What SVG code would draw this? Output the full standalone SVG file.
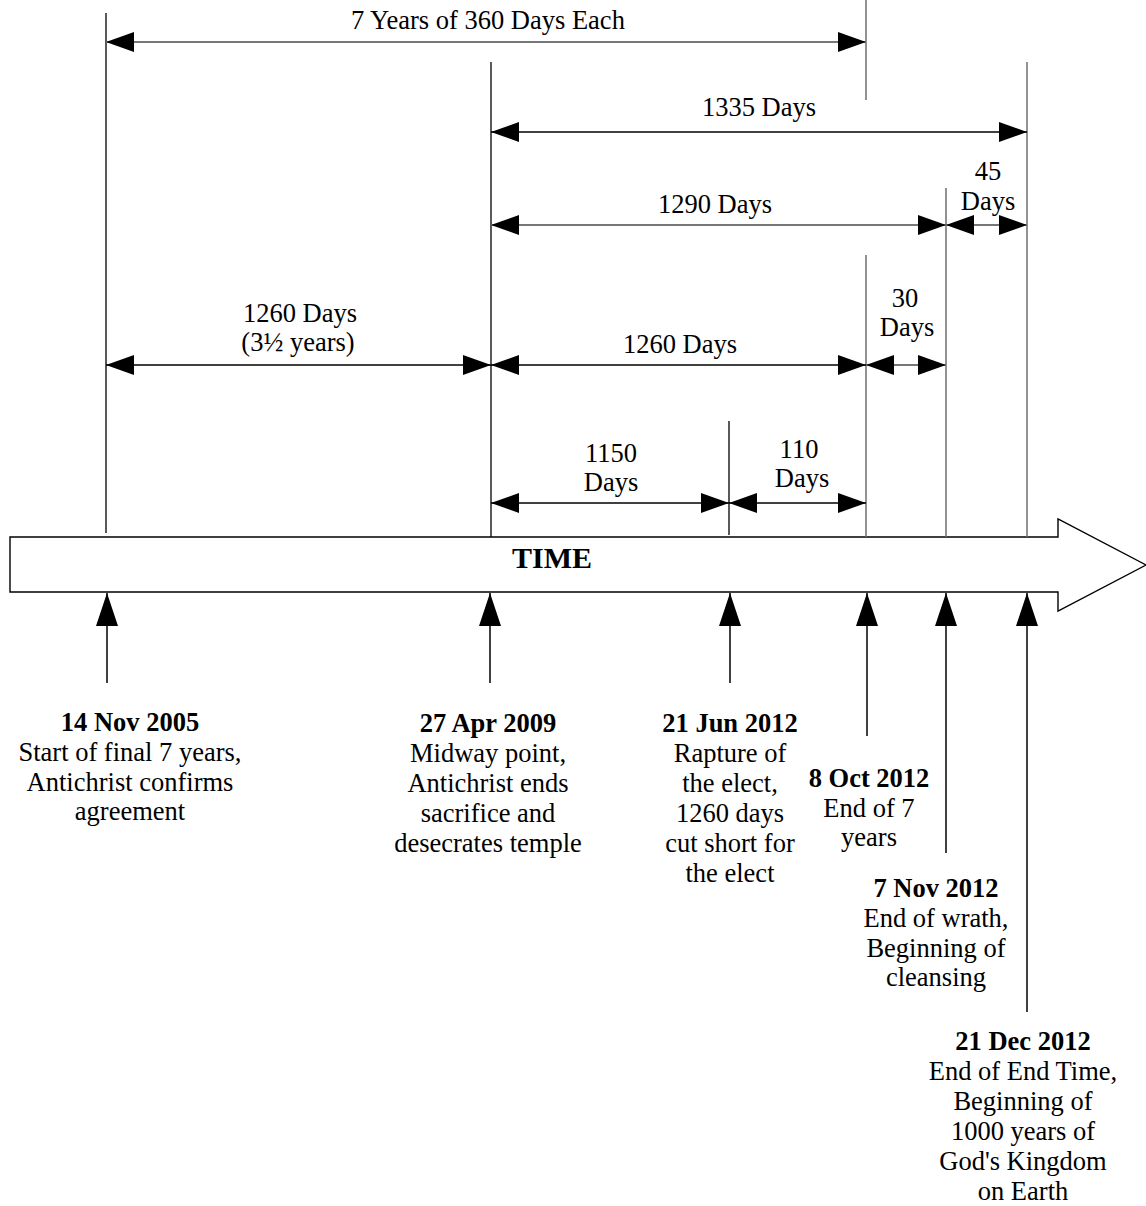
<svg xmlns="http://www.w3.org/2000/svg" width="1146" height="1206" viewBox="0 0 1146 1206">
<style>
text{font-family:"Liberation Serif","Times New Roman",serif;font-size:26.5px;fill:#000;text-anchor:middle}
.b{font-weight:bold}
.t{font-weight:bold;font-size:30px}
.v{stroke:#000;stroke-width:1.3;fill:none}
.g{stroke:#6e6e6e;stroke-width:1.5;fill:none}
.d{stroke:#000;stroke-width:1.5;fill:none;marker-start:url(#ah);marker-end:url(#ah)}
.dg{stroke:#777;stroke-width:1.8;fill:none;marker-start:url(#ah);marker-end:url(#ah)}
.u{stroke:#000;stroke-width:1.5;fill:none;marker-end:url(#up)}
</style>
<defs>
<marker id="ah" viewBox="0 0 28 20" refX="28" refY="10" markerWidth="28" markerHeight="20" markerUnits="userSpaceOnUse" orient="auto-start-reverse">
<path d="M0,0 L28,10 L0,20 Z" fill="#000"/>
</marker>
<marker id="up" viewBox="0 0 33 22" refX="33" refY="11" markerWidth="33" markerHeight="22" markerUnits="userSpaceOnUse" orient="auto">
<path d="M0,0 L33,11 L0,22 Z" fill="#000"/>
</marker>
</defs>
<g id="time-arrow">
<polygon points="10,537 1058,537 1058,519 1146,565 1058,611 1058,592 10,592" fill="#fff" stroke="#000" stroke-width="1.4"/>
<text class="t" x="552" y="568">TIME</text>
</g>
<g id="connectors">
<line class="v" x1="106" y1="13" x2="106" y2="533"/>
<line class="v" x1="491" y1="62" x2="491" y2="537"/>
<line class="g" x1="866" y1="0" x2="866" y2="100"/>
<line class="g" x1="866" y1="255" x2="866" y2="537"/>
<line class="g" x1="946" y1="188" x2="946" y2="537"/>
<line class="g" x1="1027" y1="62" x2="1027" y2="537"/>
<line class="v" x1="729" y1="421" x2="729" y2="535"/>
<line class="dg" x1="106" y1="42" x2="866" y2="42"/>
<line class="d" x1="491" y1="132" x2="1027" y2="132"/>
<line class="dg" x1="491" y1="225" x2="946" y2="225"/>
<line class="dg" x1="946" y1="225" x2="1027" y2="225"/>
<line class="d" x1="106" y1="365" x2="491" y2="365"/>
<line class="d" x1="491" y1="365" x2="866" y2="365"/>
<line class="dg" x1="866" y1="365" x2="946" y2="365"/>
<line class="d" x1="491" y1="503" x2="729" y2="503"/>
<line class="d" x1="729" y1="503" x2="866" y2="503"/>
<line class="u" x1="107" y1="683" x2="107" y2="593"/>
<line class="u" x1="490" y1="683" x2="490" y2="593"/>
<line class="u" x1="730" y1="683" x2="730" y2="593"/>
<line class="u" x1="867" y1="736" x2="867" y2="593"/>
<line class="u" x1="946" y1="853" x2="946" y2="593"/>
<line class="u" x1="1027" y1="1012" x2="1027" y2="593"/>
</g>
<g id="span-labels">
<text x="488" y="29">7 Years of 360 Days Each</text>
<text x="759" y="116">1335 Days</text>
<text x="715" y="213">1290 Days</text>
<text x="988" y="180">45</text>
<text x="988" y="210">Days</text>
<text x="300" y="322">1260 Days</text>
<text x="298" y="351">(3½ years)</text>
<text x="680" y="353">1260 Days</text>
<text x="905" y="307">30</text>
<text x="907" y="336">Days</text>
<text x="611" y="462">1150</text>
<text x="611" y="491">Days</text>
<text x="799" y="458">110</text>
<text x="802" y="487">Days</text>
</g>
<g id="node-2005">
<text class="b" x="130" y="731">14 Nov 2005</text>
<text x="130" y="761">Start of final 7 years,</text>
<text x="130" y="791">Antichrist confirms</text>
<text x="130" y="820">agreement</text>
</g>
<g id="node-2009">
<text class="b" x="488" y="732">27 Apr 2009</text>
<text x="488" y="762">Midway point,</text>
<text x="488" y="792">Antichrist ends</text>
<text x="488" y="822">sacrifice and</text>
<text x="488" y="852">desecrates temple</text>
</g>
<g id="node-jun2012">
<text class="b" x="730" y="732">21 Jun 2012</text>
<text x="730" y="762">Rapture of</text>
<text x="730" y="792">the elect,</text>
<text x="730" y="822">1260 days</text>
<text x="730" y="852">cut short for</text>
<text x="730" y="882">the elect</text>
</g>
<g id="node-oct2012">
<text class="b" x="869" y="787">8 Oct 2012</text>
<text x="869" y="817">End of 7</text>
<text x="869" y="846">years</text>
</g>
<g id="node-nov2012">
<text class="b" x="936" y="897">7 Nov 2012</text>
<text x="936" y="927">End of wrath,</text>
<text x="936" y="957">Beginning of</text>
<text x="936" y="986">cleansing</text>
</g>
<g id="node-dec2012">
<text class="b" x="1023" y="1050">21 Dec 2012</text>
<text x="1023" y="1080">End of End Time,</text>
<text x="1023" y="1110">Beginning of</text>
<text x="1023" y="1140">1000 years of</text>
<text x="1023" y="1170">God's Kingdom</text>
<text x="1023" y="1200">on Earth</text>
</g>
</svg>
